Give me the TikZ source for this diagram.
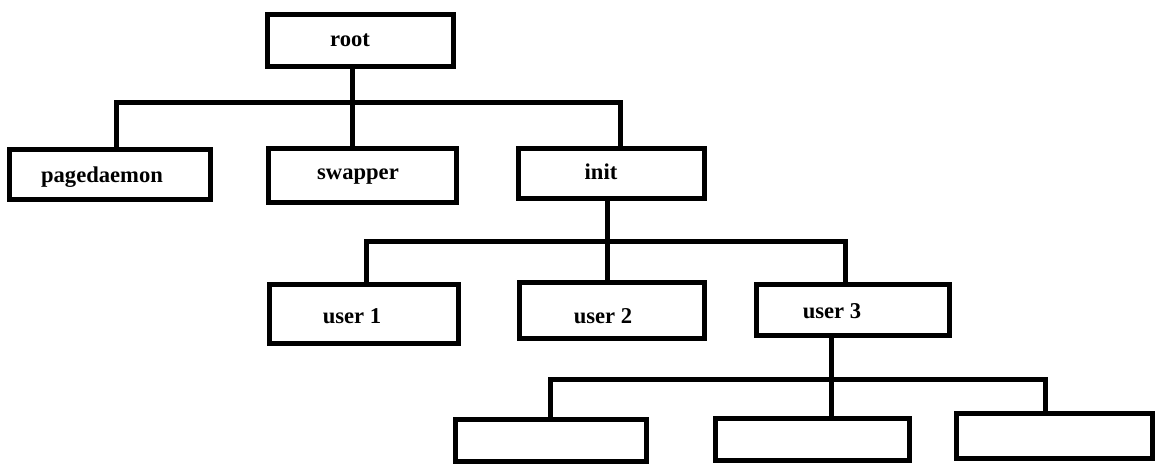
\documentclass[tikz,border=0pt]{standalone}
\usepackage{fontspec}
\setmainfont{Liberation Serif}
\begin{document}
\begin{tikzpicture}[x=1pt,y=-1pt,
  box/.style={draw=black,fill=white,line width=5pt,rectangle,inner sep=0pt,outer sep=0pt},
  conn/.style={draw=black,line width=5pt,line join=miter,line cap=butt},
  lbl/.style={font=\fontsize{22.6}{26}\selectfont\bfseries,anchor=base,inner sep=0pt}]
\useasboundingbox (0,0) rectangle (1157,465);

% process boxes
\node[box,minimum width=186pt,minimum height=52pt] (root) at (360.5,40.5) {};
\node[box,minimum width=201pt,minimum height=50pt] (pagedaemon) at (110,174.5) {};
\node[box,minimum width=188pt,minimum height=54pt] (swapper) at (362.5,175.5) {};
\node[box,minimum width=186pt,minimum height=50pt] (init) at (611.5,173.5) {};
\node[box,minimum width=189pt,minimum height=59pt] (user1) at (364,314) {};
\node[box,minimum width=185pt,minimum height=56pt] (user2) at (612,310.5) {};
\node[box,minimum width=193pt,minimum height=51pt] (user3) at (853,310) {};
\node[box,minimum width=191pt,minimum height=42pt] (childA) at (551,440.5) {};
\node[box,minimum width=194pt,minimum height=42pt] (childB) at (812.5,439.5) {};
\node[box,minimum width=196pt,minimum height=45pt] (childC) at (1054.5,436) {};

% labels
\node[lbl] (rootT) at (350,47) {root};
\node[lbl] (pagedaemonT) at (102,183) {pagedaemon};
\node[lbl] (swapperT) at (358,180) {swapper};
\node[lbl] (initT) at (601,180) {init};
\node[lbl] (user1T) at (352,323) {user 1};
\node[lbl] (user2T) at (603,323) {user 2};
\node[lbl] (user3T) at (832,318) {user 3};

% bus junctions
\coordinate (busAL) at (116,103);
\coordinate (busAM) at (352,103);
\coordinate (busAR) at (620,103);
\coordinate (busBL) at (366,241.5);
\coordinate (busBM) at (607,241.5);
\coordinate (busBR) at (845,241.5);
\coordinate (busCL) at (550,379);
\coordinate (busCM) at (831,379);
\coordinate (busCR) at (1045,379);

% root -> pagedaemon, swapper, init
\draw[conn] (pagedaemon.north -| busAL) -- (busAL) -- (busAR) -- (init.north -| busAR);
\draw[conn] (root.south -| busAM) -- (swapper.north -| busAM);

% init -> user 1, user 2, user 3
\draw[conn] (user1.north -| busBL) -- (busBL) -- (busBR) -- (user3.north -| busBR);
\draw[conn] (init.south -| busBM) -- (user2.north -| busBM);

% user 3 -> children
\draw[conn] (childA.north -| busCL) -- (busCL) -- (busCR) -- (childC.north -| busCR);
\draw[conn] (user3.south -| busCM) -- (childB.north -| busCM);
\end{tikzpicture}
\end{document}
